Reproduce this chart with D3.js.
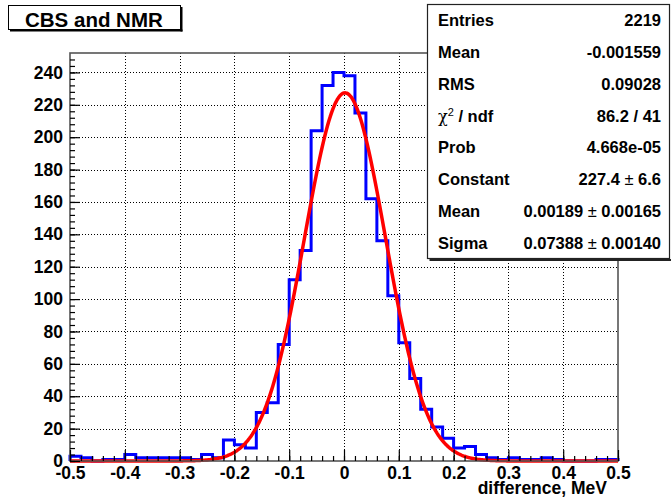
<!DOCTYPE html>
<html>
<head>
<meta charset="utf-8">
<script src="https://cdn.jsdelivr.net/npm/d3@7"></script>
<style>
  html, body { margin: 0; padding: 0; background: #fff; }
  svg { display: block; }
  text { font-family: "Liberation Sans", Arial, Helvetica, sans-serif; font-weight: bold; fill: #000; }
</style>
</head>
<body>
<svg id="chart" width="671" height="502"></svg>
<script>
// ---------------- data ----------------
const binLow = -0.5;
const binWidth = 0.02;
const counts = [
  3, 2, 0, 1, 1, 4, 2, 2, 2, 2,
  2, 1, 4, 2, 13, 10, 8, 30, 36, 72,
  112, 130, 204, 232, 240, 238, 215, 162, 136, 102,
  73, 51, 32, 21, 14, 8, 9, 4, 2, 1,
  2, 1, 1, 2, 1, 0, 0, 0, 1, 1
];
const fitConstant = [227.4];
const fitMean = [0.00189];
const fitSigma = [0.07388];
const xTickValues = [-0.5, -0.4, -0.3, -0.2, -0.1, 0, 0.1, 0.2, 0.3, 0.4, 0.5];
const xTickLabels = ["-0.5", "-0.4", "-0.3", "-0.2", "-0.1", "0", "0.1", "0.2", "0.3", "0.4", "0.5"];
const yTickValues = [0, 20, 40, 60, 80, 100, 120, 140, 160, 180, 200, 220, 240];
const yTickLabels = ["0", "20", "40", "60", "80", "100", "120", "140", "160", "180", "200", "220", "240"];
const titleText = ["CBS and NMR"];
const xAxisTitle = ["difference, MeV"];
const statLabels = ["Entries", "Mean", "RMS", "CHI", "Prob", "Constant", "Mean", "Sigma"];
const statValues = ["2219", "-0.001559", "0.09028", "86.2 / 41", "4.668e-05",
                    ["227.4", "6.6"], ["0.00189", "0.00165"], ["0.07388", "0.00140"]];

// ---------------- layout ----------------
const svg = d3.select("#chart");
const L = 70, R = 618, T = 53, B = 461;
const yMax = d3.max(counts) * 1.05;
const x = d3.scaleLinear().domain([-0.5, 0.5]).range([L, R]);
const y = d3.scaleLinear().domain([0, yMax]).range([B, T]);

// grid (dotted)
const grid = svg.append("g").attr("stroke", "#000").attr("stroke-width", 1)
  .attr("stroke-dasharray", "1,2");
grid.selectAll("line.gx").data(xTickValues.slice(1, -1)).enter().append("line")
  .attr("x1", d => Math.round(x(d)) + 0.5).attr("x2", d => Math.round(x(d)) + 0.5)
  .attr("y1", T).attr("y2", B);
grid.selectAll("line.gy").data(yTickValues.slice(1)).enter().append("line")
  .attr("x1", L).attr("x2", R)
  .attr("y1", d => Math.round(y(d)) + 0.5).attr("y2", d => Math.round(y(d)) + 0.5);

// histogram outline
const pts = [[binLow, 0]];
counts.forEach((c, i) => {
  const lo = binLow + i * binWidth, hi = binLow + (i + 1) * binWidth;
  pts.push([lo, c]); pts.push([hi, c]);
});
pts.push([binLow + counts.length * binWidth, 0]);
const line = d3.line().x(d => x(d[0])).y(d => y(d[1]));
svg.append("path").datum(pts).attr("d", line)
  .attr("fill", "none").attr("stroke", "#0000ff").attr("stroke-width", 3)
  .attr("stroke-linejoin", "miter");

// fit curve (gaussian from fitted parameters)
const fitPts = d3.range(0, 401).map(i => {
  const xv = -0.5 + i / 400;
  const z = (xv - fitMean[0]) / fitSigma[0];
  return [xv, fitConstant[0] * Math.exp(-0.5 * z * z)];
});
svg.append("path").datum(fitPts).attr("d", line)
  .attr("fill", "none").attr("stroke", "#ff0000").attr("stroke-width", 3.5)
  .attr("stroke-linejoin", "round");

// frame
svg.append("rect").attr("x", L).attr("y", T).attr("width", R - L).attr("height", B - T)
  .attr("fill", "none").attr("stroke", "#555").attr("stroke-width", 1.6);

// axes
const fs = "17.5px";
const yMinor = d3.range(0, yMax, 4);
svg.append("g").attr("transform", `translate(${L},0)`)
  .call(d3.axisLeft(y).tickValues(yMinor).tickSize(-5).tickFormat(""))
  .call(g => g.select(".domain").remove())
  .call(g => g.selectAll("line").attr("stroke", "#000").attr("stroke-width", 1.2));
svg.append("g").attr("transform", `translate(${L},0)`)
  .call(d3.axisLeft(y).tickValues(yTickValues).tickSize(-10).tickPadding(7)
    .tickFormat((d, i) => yTickLabels[i]))
  .call(g => g.select(".domain").remove())
  .call(g => g.selectAll("line").attr("stroke", "#000").attr("stroke-width", 1.2))
  .call(g => g.selectAll("text").style("font-size", fs).style("font-family", "Liberation Sans, Arial, sans-serif").style("font-weight", "bold"));

const xMinor = d3.range(0, 51).map(i => -0.5 + i * 0.02);
svg.append("g").attr("transform", `translate(0,${B})`)
  .call(d3.axisBottom(x).tickValues(xMinor).tickSize(-5).tickFormat(""))
  .call(g => g.select(".domain").remove())
  .call(g => g.selectAll("line").attr("stroke", "#000").attr("stroke-width", 1.2));
svg.append("g").attr("transform", `translate(0,${B})`)
  .call(d3.axisBottom(x).tickValues(xTickValues).tickSize(-11).tickPadding(6)
    .tickFormat((d, i) => xTickLabels[i]))
  .call(g => g.select(".domain").remove())
  .call(g => g.selectAll("line").attr("stroke", "#000").attr("stroke-width", 1.2))
  .call(g => g.selectAll("text").style("font-size", fs).style("font-family", "Liberation Sans, Arial, sans-serif").style("font-weight", "bold"));

// x axis title
svg.append("text").attr("x", 607).attr("y", 494).attr("text-anchor", "end")
  .style("font-size", fs).text(xAxisTitle[0]);

// title box
svg.append("rect").attr("x", 8.5).attr("y", 5.5).attr("width", 172).attr("height", 24)
  .attr("fill", "#fff").attr("stroke", "#000").attr("stroke-width", 1);
svg.append("line").attr("x1", 181.5).attr("x2", 181.5).attr("y1", 7).attr("y2", 31.5)
  .attr("stroke", "#000").attr("stroke-width", 2);
svg.append("line").attr("x1", 10).attr("x2", 182.5).attr("y1", 30.5).attr("y2", 30.5)
  .attr("stroke", "#000").attr("stroke-width", 2);
svg.append("text").attr("x", 25).attr("y", 26.5).style("font-size", "20.5px").text(titleText[0]);

// stats box
const SX = 427.5, SY = 4.5, SW = 242, SH = 254;
svg.append("rect").attr("x", SX).attr("y", SY).attr("width", SW).attr("height", SH)
  .attr("fill", "#fff").attr("stroke", "#222").attr("stroke-width", 1.2);
svg.append("line").attr("x1", SX + 2).attr("x2", 671).attr("y1", SY + SH + 1.5).attr("y2", SY + SH + 1.5)
  .attr("stroke", "#222").attr("stroke-width", 2);
const rowH = SH / statLabels.length;
const sfs = "16.5px";
statLabels.forEach((lab, i) => {
  const by = SY + rowH * i + rowH / 2 + 6;
  const t = svg.append("text").attr("x", 438).attr("y", by).style("font-size", sfs);
  if (lab === "CHI") {
    t.append("tspan").text("χ").style("font-weight", "normal").style("font-family", "DejaVu Serif, serif").style("font-size", "16px");
    t.append("tspan").text("2").attr("dy", -6).style("font-size", "11px").style("font-weight", "normal");
    t.append("tspan").text(" / ndf").attr("dy", 6);
  } else {
    t.text(lab);
  }
  const v = statValues[i];
  const tv = svg.append("text").attr("x", 661).attr("y", by).attr("text-anchor", "end").style("font-size", sfs);
  if (Array.isArray(v)) {
    tv.append("tspan").text(v[0] + " ");
    tv.append("tspan").text("±").style("font-weight", "normal");
    tv.append("tspan").text(" " + v[1]);
  } else {
    tv.text(v);
  }
});
</script>
</body>
</html>
